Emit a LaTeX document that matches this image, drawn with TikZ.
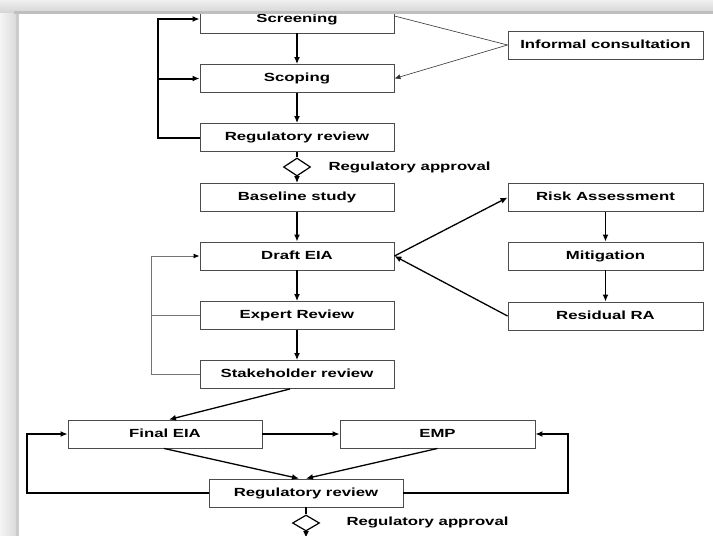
\documentclass[tikz,border=0pt]{standalone}
\usepackage{fontspec}
\setmainfont{Liberation Sans}[FakeStretch=1.42]
\usetikzlibrary{arrows.meta,shapes.geometric}
\begin{document}
\begin{tikzpicture}[x=1pt,y=-1pt,
  lbl/.style={font=\fontsize{11.8}{13}\selectfont\bfseries, text height=8.6pt, text depth=2.6pt},
  box/.style={lbl, draw=black!70, line width=0.9pt, fill=white, minimum width=194pt, minimum height=28pt, inner sep=0pt},
  dia/.style={diamond, draw=black, line width=1.2pt, fill=white, minimum width=27pt, minimum height=18pt, inner sep=0pt, aspect=1.5},
  tip/.style={-{Latex[length=7pt,width=6pt]}},
  arr/.style={tip, line width=1.3pt},
  plain/.style={line width=1.3pt},
  thickarr/.style={tip, line width=2pt},
  thinarr/.style={-{Latex[length=6pt,width=5pt]}, line width=0.6pt, draw=black!80},
  grayarr/.style={-{Latex[length=6pt,width=5pt,color=black]}, line width=1pt, draw=black!55},
  grayline/.style={line width=1pt, draw=black!55}
]
\useasboundingbox (0,0) rectangle (713,536);
\fill[white] (0,0) rectangle (713,536);

% left column
\node[box] (scr) at (297,19) {Screening};
\node[box] (scp) at (297,78.5) {Scoping};
\node[box] (rr1) at (297,137.5) {Regulatory review};
\node[dia] (d1) at (297,167) {};
\node[lbl, anchor=west] (ra1) at (325,167) {Regulatory approval};
\node[box] (base) at (297,197.5) {Baseline study};
\node[box] (draft) at (297,256) {Draft EIA};
\node[box] (expert) at (297,315.5) {Expert Review};
\node[box] (stake) at (297,374.5) {Stakeholder review};

% right column
\node[box, minimum width=195pt] (inf) at (605.5,45) {Informal consultation};
\node[box, minimum width=195pt] (risk) at (605.5,197.5) {Risk Assessment};
\node[box, minimum width=195pt] (mit) at (605.5,256) {Mitigation};
\node[box, minimum width=195pt] (resid) at (605.5,316) {Residual RA};

% bottom
\node[box] (final) at (165,434) {Final EIA};
\node[box, minimum width=195pt] (emp) at (437.5,434) {EMP};
\node[box] (rr2) at (306,493) {Regulatory review};
\node[dia, minimum height=16pt] (d2) at (306,523) {};
\node[lbl, anchor=west] (ra2) at (343,522) {Regulatory approval};

% top chain
\draw[arr] (scr) -- (scp);
\draw[arr] (scp) -- (rr1);
\draw[plain] (rr1) -- (d1);
\draw[arr] (d1) -- (base);
\draw[arr] (base) -- (draft);
\draw[arr] (draft) -- (expert);
\draw[arr] (expert) -- (stake);

% top feedback loop
\coordinate (l1) at (158,137.5);
\draw[thickarr] (rr1.west) -- (l1) |- (scr.west);
\draw[thickarr] (l1 |- scp.west) -- (scp.west);

% informal consultation
\draw[line width=0.6pt, draw=black!80] (inf.west) -- ([yshift=3pt]scr.east);
\draw[thinarr] (inf.west) -- (scp.east);

% risk loop
\draw[arr] (draft.east) -- (risk.west);
\draw[arr] (risk) -- (mit);
\draw[arr] (mit) -- (resid);
\draw[arr] (resid.west) -- (draft.east);

% draft feedback loop
\coordinate (l2) at (151,374.5);
\draw[grayarr] (stake.west) -- (l2) |- (draft.west);
\draw[grayline] (expert.west) -- (l2 |- expert.west);

% bottom part
\draw[arr] ([xshift=-7pt]stake.south) -- ([xshift=4pt]final.north);
\draw[arr] (final) -- (emp);
\draw[arr] ([xshift=-1pt]final.south) -- ([xshift=-7pt]rr2.north);
\draw[arr] (emp.south) -- (rr2.north);
\coordinate (l3) at (27,493);
\draw[arr] (rr2.west) -- (l3) |- (final.west);
\coordinate (l4) at (568,493);
\draw[arr] (rr2.east) -- (l4) |- (emp.east);
\draw[plain] (rr2) -- (d2);
\coordinate (endp) at (306,538);
\draw[arr] (d2) -- (endp);

% frame shadow
\shade[left color=gray!8, right color=gray!30] (0,0) rectangle (17,536);
\fill[gray!40] (16,10) rectangle (18.5,536);
\shade[top color=gray!12, bottom color=gray!32] (0,0) rectangle (713,12);
\fill[gray!50] (14,11) rectangle (713,14);
\end{tikzpicture}
\end{document}
